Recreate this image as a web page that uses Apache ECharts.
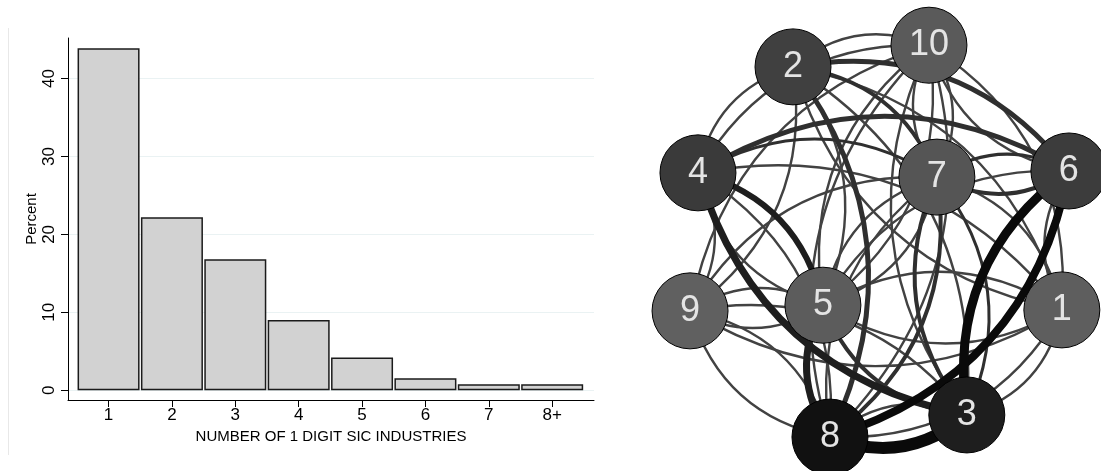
<!DOCTYPE html>
<html>
<head>
<meta charset="utf-8">
<script src="https://cdn.jsdelivr.net/npm/echarts@6/dist/echarts.min.js"></script>
<style>
html, body { margin: 0; padding: 0; background: #fff; }
#chart { width: 1101px; height: 471px; }
</style>
</head>
<body>
<div id="chart"></div>
<script>
// 左: 直方图
const categories = ['1', '2', '3', '4', '5', '6', '7', '8+']
const percent = [43.9, 22.2, 16.8, 9.0, 4.2, 1.55, 0.77, 0.77]
const yTicks = [0, 10, 20, 30, 40]

// 右: 网络图 (节点坐标为布局坐标, 0-100)
const nodeNames = ['1', '2', '3', '4', '5', '6', '7', '8', '9', '10']
const nodeX = [93.6, 32.5, 72.0, 10.9, 39.3, 95.2, 65.2, 40.9, 9.1, 63.4]
const nodeY = [65.8, 14.2, 88.1, 36.7, 64.8, 36.3, 37.6, 92.8, 66.0, 9.6]
const edgeFrom = ['3', '3', '6', '3', '8', '4', '4', '2', '2', '6', '7', '4', '2', '7', '3', '7', '3',
    '2', '1', '1', '1', '1', '5', '1', '7', '1', '10', '4',
    '2', '2', '4', '2', '2',
    '5', '5', '7', '5', '10', '5', '5', '9',
    '6', '9', '8', '9', '10', '8', '4', '8', '9', '4', '4', '3', '9', '10', '7', '8']
const edgeTo = ['8', '6', '8', '4', '5', '5', '6', '6', '8', '7', '6', '7', '7', '8', '7', '3', '5',
    '1', '2', '3', '8', '5', '1', '9', '1', '6', '1', '1',
    '3', '5', '2', '9', '10',
    '4', '7', '5', '10', '5', '6', '9', '5',
    '10', '7', '9', '8', '8', '10', '8', '3', '10', '9', '10', '10', '3', '7', '10', '7']
const edgeWeight = [12, 9, 8, 7, 7, 6, 5, 5, 5, 4, 3, 3, 4, 4, 4, 3, 4,
    2, 2, 2, 2, 2, 2, 2, 2, 2, 2, 2,
    2, 2, 2, 2, 2,
    2, 2, 2, 2, 2, 2, 2, 2,
    2, 2, 2, 2, 2, 2, 2, 2, 2, 2, 2, 2, 2, 2, 2, 2]

// 节点颜色
const nodeColors = ['#5e5e5e', '#404040', '#1e1e1e', '#3a3a3a', '#5c5c5c', '#3c3c3c', '#555555', '#111111', '#606060', '#5a5a5a']

function edgeColor (w) {
    if (w >= 8) return '#0a0a0a'
    if (w >= 6) return '#1e1e1e'
    if (w >= 3) return '#2f2f2f'
    return '#424242'
}
function edgeWidth (w) {
    return w < 3 ? 2.4 : w
}

const textStyle = { color: '#000', fontSize: 15, fontFamily: 'Liberation Sans' }
const tickText = { color: '#000', fontSize: 17, fontFamily: 'Liberation Sans' }

const xPos = categories.map((c, i) => i + 1)
const barData = percent.map((v, i) => [xPos[i], v])

const nodes = nodeNames.map((n, i) => ({
    name: n,
    value: [nodeX[i], nodeY[i]],
    itemStyle: { color: nodeColors[i], borderColor: '#000', borderWidth: 1 }
}))
const links = edgeFrom.map((s, i) => ({
    source: s,
    target: edgeTo[i],
    lineStyle: { width: edgeWidth(edgeWeight[i]), color: edgeColor(edgeWeight[i]), opacity: 1, curveness: 0.3 }
}))
// 细线先画, 粗线在上
links.sort((a, b) => a.lineStyle.width - b.lineStyle.width)

let myChart = echarts.init(document.getElementById('chart'))
myChart.setOption({
    animation: false,
    backgroundColor: '#fff',
    graphic: [{
        type: 'line',
        shape: { x1: 8.5, y1: 28, x2: 8.5, y2: 455 },
        style: { stroke: '#e8e8e8', lineWidth: 1 }
    }],
    grid: [
        { left: 68, top: 38, width: 526, height: 362 },
        { left: 650, top: 0, width: 440, height: 471 }
    ],
    xAxis: [
        {
            type: 'value',
            gridIndex: 0,
            min: 0.36,
            max: 8.66,
            name: 'NUMBER OF 1 DIGIT SIC INDUSTRIES',
            nameLocation: 'middle',
            nameGap: 26,
            nameTextStyle: textStyle,
            axisLine: { show: true, onZero: false, lineStyle: { color: '#000', width: 1 } },
            axisTick: { show: true, customValues: xPos, length: 7, lineStyle: { color: '#000' } },
            axisLabel: Object.assign({ customValues: xPos, margin: 7, formatter: v => categories[v - 1] }, tickText),
            splitLine: { show: false }
        },
        { type: 'value', gridIndex: 1, min: 0, max: 100, show: false }
    ],
    yAxis: [
        {
            type: 'value',
            gridIndex: 0,
            min: -1.25,
            max: 45.2,
            name: 'Percent',
            nameLocation: 'middle',
            nameGap: 29,
            nameRotate: 90,
            nameTextStyle: textStyle,
            axisLine: { show: true, onZero: false, lineStyle: { color: '#000', width: 1 } },
            axisTick: { show: true, customValues: yTicks, length: 7, lineStyle: { color: '#000' } },
            axisLabel: Object.assign({ customValues: yTicks, rotate: 90, margin: 10 }, tickText),
            splitLine: { show: true, lineStyle: { color: '#eaf2f3', width: 1 } }
        },
        { type: 'value', gridIndex: 1, min: 0, max: 100, inverse: true, show: false }
    ],
    series: [
        {
            type: 'bar',
            xAxisIndex: 0,
            yAxisIndex: 0,
            data: barData,
            barWidth: 62,
            itemStyle: { color: '#d2d2d2', borderColor: '#1b1b1b', borderWidth: 1.5 }
        },
        {
            type: 'graph',
            coordinateSystem: 'cartesian2d',
            xAxisIndex: 1,
            yAxisIndex: 1,
            layout: 'none',
            symbol: 'circle',
            symbolSize: 76,
            edgeSymbol: ['none', 'none'],
            data: nodes,
            links: links,
            label: {
                show: true,
                position: 'inside',
                formatter: '{b}',
                color: '#e4e4e4',
                fontSize: 36,
                fontFamily: 'Liberation Sans'
            },
            emphasis: { disabled: true }
        }
    ]
})
</script>
</body>
</html>
